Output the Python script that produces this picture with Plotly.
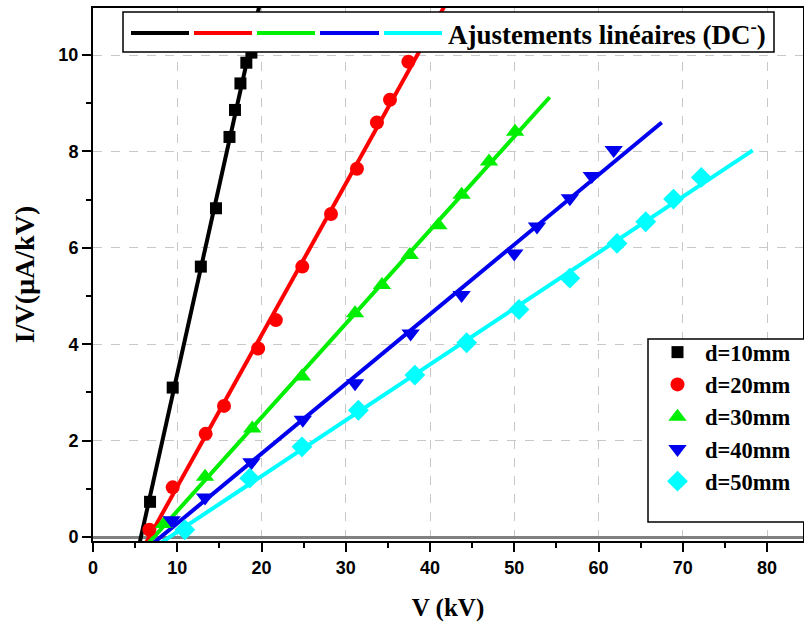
import numpy as np
import plotly.graph_objects as go

# ---- data ----
V10 = [6.77, 9.46, 12.8, 14.6, 16.2, 16.85, 17.5, 18.2, 18.8]
I10 = [0.73, 3.10, 5.61, 6.82, 8.30, 8.86, 9.41, 9.84, 10.05]

V20 = [6.69, 9.46, 13.37, 15.55, 19.6, 21.7, 24.84, 28.25, 31.33, 33.7, 35.25, 37.43]
I20 = [0.15, 1.03, 2.14, 2.72, 3.91, 4.50, 5.61, 6.70, 7.64, 8.60, 9.07, 9.86]

V30 = [8.43, 13.3, 18.9, 24.8, 31.1, 34.3, 37.6, 41.0, 43.75, 47.0, 50.1]
I30 = [0.27, 1.25, 2.25, 3.33, 4.64, 5.23, 5.85, 6.47, 7.10, 7.79, 8.41]

V40 = [9.34, 13.3, 18.8, 24.9, 31.1, 37.7, 43.75, 50.0, 52.7, 56.6, 59.2, 61.8]
I40 = [0.35, 0.82, 1.55, 2.43, 3.19, 4.22, 5.02, 5.88, 6.44, 7.03, 7.49, 8.03]

V50 = [10.9, 18.6, 24.8, 31.5, 38.2, 44.35, 50.56, 56.6, 62.2, 65.6, 68.9, 72.2]
I50 = [0.15, 1.22, 1.87, 2.63, 3.36, 4.03, 4.72, 5.37, 6.09, 6.54, 7.01, 7.46]

names = ["d=10mm", "d=20mm", "d=30mm", "d=40mm", "d=50mm"]
fit_end = [25, 45, 54.2, 67.5, 78.3]   # x where each fitted line stops

xticks = [0, 10, 20, 30, 40, 50, 60, 70, 80]
yticks = [0, 2, 4, 6, 8, 10]

colors = ["#000000", "#ff0000", "#00ee00", "#0000ee", "#00ffff"]
symbols = ["square", "circle", "triangle-up", "triangle-down", "diamond"]
msizes = [12, 14, 16, 16, 16]

series = [(V10, I10), (V20, I20), (V30, I30), (V40, I40), (V50, I50)]

xr = [0, 84.27]
yr = [-0.083, 10.975]

fig = go.Figure()

# fitted lines
for (v, i), c, xe in zip(series, colors, fit_end):
    a, b = np.polyfit(v, i, 1)
    xs = (yr[0] - 0.3 - b) / a
    xx = np.array([xs, xe])
    fig.add_trace(go.Scatter(x=xx, y=a * xx + b, mode="lines",
                             line=dict(color=c, width=4),
                             showlegend=False, hoverinfo="skip"))

# markers
for (v, i), c, s, n, ms in zip(series, colors, symbols, names, msizes):
    fig.add_trace(go.Scatter(x=v, y=i, mode="markers", name="<b>%s</b>" % n,
                             marker=dict(color=c, symbol=s, size=ms,
                                         line=dict(width=0))))

def px2x(px):
    return (px - 93) / 710.0

def py2y(py):
    return (541 - py) / 533.0

shapes = []
# top legend box
shapes.append(dict(type="rect", xref="paper", yref="paper",
                   x0=px2x(123), x1=px2x(774), y0=py2y(52), y1=py2y(12),
                   line=dict(color="#000000", width=1.5), fillcolor="white",
                   layer="above"))
segs = [(131, 189), (194, 252), (257, 315), (320, 379), (384, 442)]
for (a, b), c in zip(segs, colors):
    shapes.append(dict(type="line", xref="paper", yref="paper",
                       x0=px2x(a), x1=px2x(b), y0=py2y(33), y1=py2y(33),
                       line=dict(color=c, width=4), layer="above"))
# right legend box
shapes.append(dict(type="rect", xref="paper", yref="paper",
                   x0=px2x(648), x1=1.05, y0=py2y(522), y1=py2y(339),
                   line=dict(color="#000000", width=1.5), fillcolor="white",
                   layer="above"))

fig.update_layout(
    width=804, height=622,
    margin=dict(l=93, r=1, t=8, b=81, autoexpand=False),
    plot_bgcolor="white", paper_bgcolor="white",
    showlegend=True,
    shapes=shapes,
    legend=dict(x=px2x(650), y=py2y(331), xanchor="left", yanchor="top",
                bgcolor="rgba(0,0,0,0)", borderwidth=0,
                font=dict(family="Liberation Serif", size=22.5, color="black"),
                itemwidth=45, tracegroupgap=0),
    annotations=[dict(xref="paper", yref="paper", x=px2x(446), y=py2y(33),
                      xanchor="left", yanchor="middle", showarrow=False,
                      text="<b>Ajustements linéaires (DC<sup>-</sup>)</b>",
                      font=dict(family="Liberation Serif", size=27, color="black"))],
)

fig.update_xaxes(
    range=xr, tickvals=xticks,
    ticktext=["<b>%d</b>" % t for t in xticks],
    ticks="outside", ticklen=9, tickwidth=2, tickcolor="black",
    minor=dict(dtick=5, tick0=0, ticks="outside", ticklen=5, tickwidth=2,
               tickcolor="black", showgrid=False),
    showline=True, linecolor="black", linewidth=2, mirror=True,
    showgrid=True, gridcolor="#c8c8c8", griddash="dash", gridwidth=1,
    zeroline=False, automargin=False,
    tickfont=dict(family="Liberation Sans", size=18, color="black"),
    title=dict(text="<b>V (kV)</b>", standoff=22,
               font=dict(family="Liberation Serif", size=25, color="black")),
)
fig.update_yaxes(
    range=yr, tickvals=yticks,
    ticktext=["<b>%d</b>" % t for t in yticks],
    ticks="outside", ticklen=9, tickwidth=2, tickcolor="black",
    minor=dict(dtick=1, tick0=0, ticks="outside", ticklen=5, tickwidth=2,
               tickcolor="black", showgrid=False),
    showline=True, linecolor="black", linewidth=2, mirror=True,
    showgrid=True, gridcolor="#c8c8c8", griddash="dash", gridwidth=1,
    zeroline=True, zerolinecolor="#808080", zerolinewidth=3,
    automargin=False,
    tickfont=dict(family="Liberation Sans", size=18, color="black"),
    title=dict(text="<b>I/V(µA/kV)</b>", standoff=16,
               font=dict(family="Liberation Serif", size=28, color="black")),
)

fig.write_html("out.html", config={"displayModeBar": False},
               post_script="document.body.style.margin='0';"
                           "document.body.style.overflow='hidden';")
